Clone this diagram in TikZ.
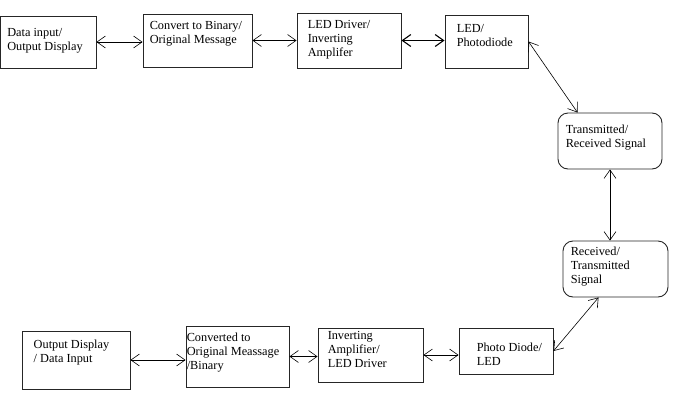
\documentclass[tikz,border=0pt]{standalone}
\usepackage{fontspec}
\setmainfont{Liberation Serif}
\usetikzlibrary{arrows.meta,calc}

\begin{document}
\begin{tikzpicture}[
  x=1pt, y=-1pt,
  font=\fontsize{12.3}{14}\selectfont,
  >={Straight Barb[length=8.5pt,width=12pt]},
  box/.style={draw=black!85, line width=0.9pt, inner sep=0pt},
  sig/.style={box, rounded corners=10pt},
  txt/.style={anchor=north west, align=left, inner sep=0pt},
  link/.style={<->, line width=0.6pt},
]
\useasboundingbox (0,0) rectangle (673,402);

% Top row
\node[box, minimum width=95.5pt, minimum height=52pt] (din) at (48.25,42) {};
\node[box, minimum width=109pt, minimum height=53pt] (conv) at (197.5,40.5) {};
\node[box, minimum width=104pt, minimum height=55pt] (drv) at (349,40.5) {};
\node[box, minimum width=83pt, minimum height=53pt] (led) at (486.5,41.5) {};

% Signal boxes
\node[sig, minimum width=104pt, minimum height=56pt] (sigA) at (610,141) {};
\node[sig, minimum width=105pt, minimum height=56pt] (sigB) at (615.5,269) {};

% Bottom row
\node[box, minimum width=94pt, minimum height=46pt] (pd) at (506,351) {};
\node[box, minimum width=105pt, minimum height=54pt] (inv) at (370.5,355) {};
\node[box, minimum width=103pt, minimum height=61pt] (orig) at (237.5,356.5) {};
\node[box, minimum width=108pt, minimum height=58pt] (dout) at (76,360) {};

% Texts
\node[txt] (dintxt) at ($(din.north west)+(7,13)$) {Data input/\\Output Display};
\node[txt] (convtxt) at ($(conv.north west)+(7,8)$) {Convert to Binary/\\Original Message};
\node[txt] (drvtxt) at ($(drv.north west)+(11,8)$) {LED Driver/\\Inverting\\Amplifer};
\node[txt] (ledtxt) at ($(led.north west)+(12,10)$) {LED/\\Photodiode};
\node[txt] (sigAtxt) at ($(sigA.north west)+(8,12)$) {Transmitted/\\Received Signal};
\node[txt] (sigBtxt) at ($(sigB.north west)+(8,6)$) {Received/\\Transmitted\\Signal};
\node[txt] (pdtxt) at ($(pd.north west)+(18,15)$) {Photo Diode/\\LED};
\node[txt] (invtxt) at ($(inv.north west)+(10,4)$) {Inverting\\Amplifier/\\LED Driver};
\node[txt] (origtxt) at ($(orig.north west)+(1,7)$) {Converted to\\Original Meassage\\/Binary};
\node[txt] (douttxt) at ($(dout.north west)+(12,9)$) {Output Display\\/ Data Input};

% Links
\draw[link] (din.east) -- (din.east -| conv.west);
\draw[link] (conv.east) -- (conv.east -| drv.west);
\draw[link, line width=1.1pt] (drv.east) -- (drv.east -| led.west);
\draw[link] (led.east) -- ($(sigA.north west)+(20,0)$);
\draw[link] (sigA.south) -- (sigA.south |- sigB.north);
\draw[link] ($(sigB.south west)+(36,0)$) -- (pd.east);
\draw[link] (inv.east) -- (inv.east -| pd.west);
\draw[link] (orig.east) -- (orig.east -| inv.west);
\draw[link] (dout.east) -- (dout.east -| orig.west);
\end{tikzpicture}
\end{document}
